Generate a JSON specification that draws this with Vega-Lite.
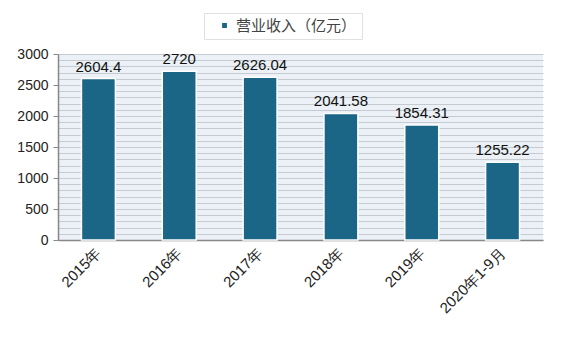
{
  "$schema": "https://vega.github.io/schema/vega-lite/v6.json",
  "width": 485,
  "height": 186,
  "autosize": {"type": "none"},
  "padding": {"left": 58, "top": 54, "right": 23, "bottom": 97},
  "background": "#ffffff",
  "config": {
    "font": "Liberation Sans",
    "view": {"fill": "#ebf1f7", "stroke": null}
  },
  "data": {
    "values": [
      {"year": "2015年", "value": 2604.4, "label": "2604.4", "series": "营业收入（亿元）"},
      {"year": "2016年", "value": 2720, "label": "2720", "series": "营业收入（亿元）"},
      {"year": "2017年", "value": 2626.04, "label": "2626.04", "series": "营业收入（亿元）"},
      {"year": "2018年", "value": 2041.58, "label": "2041.58", "series": "营业收入（亿元）"},
      {"year": "2019年", "value": 1854.31, "label": "1854.31", "series": "营业收入（亿元）"},
      {"year": "2020年1-9月", "value": 1255.22, "label": "1255.22", "series": "营业收入（亿元）"}
    ]
  },
  "encoding": {
    "x": {
      "field": "year", "type": "nominal", "sort": null,
      "scale": {"paddingInner": 0.58, "paddingOuter": 0.29},
      "axis": {
        "title": null, "labelAngle": -45, "labelAlign": "right", "labelBaseline": "middle",
        "labelFontSize": 15, "labelColor": "#222", "labelPadding": 10,
        "ticks": false, "domainColor": "#888", "domainWidth": 1.5, "grid": false
      }
    },
    "y": {
      "field": "value", "type": "quantitative",
      "scale": {"domain": [0, 3000], "nice": false},
      "axis": {
        "title": null, "format": "d",
        "values": [0,100,200,300,400,500,600,700,800,900,1000,1100,1200,1300,1400,1500,1600,1700,1800,1900,2000,2100,2200,2300,2400,2500,2600,2700,2800,2900,3000],
        "labelExpr": "datum.value % 500 === 0 ? datum.label : ''",
        "labelFontSize": 14, "labelColor": "#222", "labelPadding": 5,
        "tickSize": 5,
        "tickColor": {"condition": {"test": "datum.value % 500 === 0", "value": "#888"}, "value": "transparent"},
        "domainColor": "#888", "domainWidth": 1.5,
        "grid": true, "gridColor": "#c6cbd0", "gridWidth": 1.2
      }
    }
  },
  "layer": [
    {
      "mark": {"type": "bar", "stroke": "#ffffff", "strokeWidth": 1.5},
      "encoding": {
        "color": {
          "field": "series", "type": "nominal",
          "scale": {"range": ["#1b6586"]},
          "legend": {
            "title": null, "orient": "none", "legendX": 146, "legendY": -41,
            "symbolType": "square", "symbolSize": 40, "labelFontSize": 15, "labelColor": "#444",
            "labelFont": "Noto Sans CJK SC",
            "strokeColor": "#e0e0e0", "padding": 5, "fillColor": "#ffffff",
            "symbolOffset": 8
          }
        }
      }
    },
    {
      "mark": {"type": "text", "dy": -12, "fontSize": 15, "color": "#111"},
      "encoding": {"text": {"field": "label"}}
    }
  ]
}
